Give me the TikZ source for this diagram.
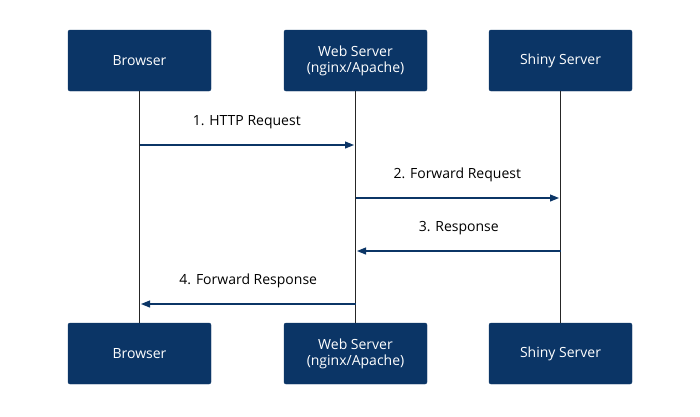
\documentclass[tikz,border=0pt]{standalone}
\usepackage{fontspec}
\setmainfont{Open Sans}
\usetikzlibrary{arrows.meta}
\definecolor{navy}{HTML}{0B3566}
\begin{document}
\begin{tikzpicture}[x=1pt,y=-1pt,
 box/.style={fill=navy,draw=navy,rounded corners=2pt,minimum width=143pt,minimum height=61pt,text=white,align=center,font=\fontsize{14}{16}\selectfont,inner sep=0pt},
 life/.style={draw=black!85,line width=1.3pt},
 msg/.style={draw=navy,line width=1.1pt,-{Triangle[length=9pt,width=7pt]}},
 lbl/.style={font=\fontsize{14}{16}\selectfont,text=black}]
\useasboundingbox (0,0) rectangle (700,416);
\node[box] (b1) at (139.5,60.5) {Browser};
\node[box] (w1) at (355.5,60.5) {Web Server\\(nginx/Apache)};
\node[box] (s1) at (560.5,60.5) {Shiny Server};
\node[box] (b2) at (139.5,353.5) {Browser};
\node[box] (w2) at (355.5,353.5) {Web Server\\(nginx/Apache)};
\node[box] (s2) at (560.5,353.5) {Shiny Server};
\draw[life] (b1) -- (b2);
\draw[life] (w1) -- (w2);
\draw[life] (s1) -- (s2);
\coordinate (a1s) at (139.5,145); \coordinate (a1e) at (354,145);
\coordinate (a2s) at (355.5,198); \coordinate (a2e) at (559,198);
\coordinate (a3s) at (560.5,251); \coordinate (a3e) at (357,251);
\coordinate (a4s) at (355.5,304); \coordinate (a4e) at (141,304);
\draw[msg] (a1s) -- node[lbl,above=12pt] (l1) {1. HTTP Request} (a1e);
\draw[msg] (a2s) -- node[lbl,above=12pt] (l2) {2. Forward Request} (a2e);
\draw[msg] (a3s) -- node[lbl,above=12pt] (l3) {3. Response} (a3e);
\draw[msg] (a4s) -- node[lbl,above=12pt] (l4) {4. Forward Response} (a4e);
\end{tikzpicture}
\end{document}
